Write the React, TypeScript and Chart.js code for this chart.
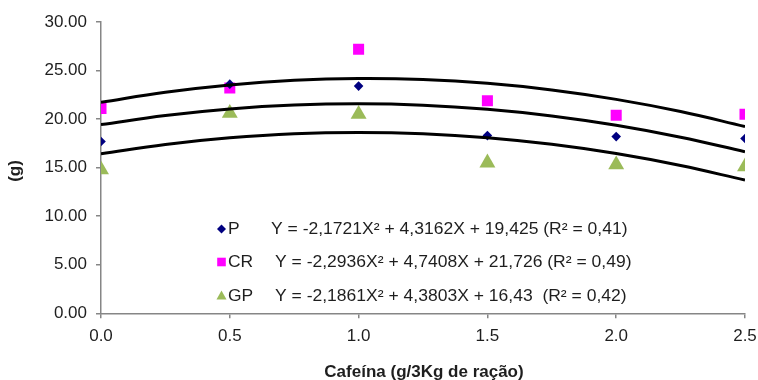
import React, { useEffect, useRef } from "react";
import { Chart, registerables } from "chart.js";

Chart.register(...registerables);

const doseX = [0, 0.5, 1.0, 1.5, 2.0, 2.5];
const pValues = [17.7, 23.6, 23.4, 18.3, 18.2, 18.0];
const crValues = [21.1, 23.2, 27.2, 21.9, 20.4, 20.5];
const gpValues = [14.8, 20.6, 20.5, 15.5, 15.3, 15.1];

const trendX = [0, 0.25, 0.5, 0.75, 1.0, 1.25, 1.5, 1.75, 2.0, 2.25, 2.5];
const crTrend = [21.73, 22.77, 23.52, 23.99, 24.17, 24.07, 23.68, 23.0, 22.03, 20.78, 19.24];
const pTrend = [19.43, 20.37, 21.04, 21.44, 21.57, 21.43, 21.01, 20.33, 19.37, 18.14, 16.64];
const gpTrend = [16.43, 17.39, 18.07, 18.49, 18.62, 18.49, 18.08, 17.4, 16.45, 15.22, 13.72];

const seriesNames = ["P", "CR", "GP"];
const equations = [
  "Y = -2,1721X\u00B2 + 4,3162X + 19,425 (R\u00B2 = 0,41)",
  "Y = -2,2936X\u00B2 + 4,7408X + 21,726 (R\u00B2 = 0,49)",
  "Y = -2,1861X\u00B2 + 4,3803X + 16,43  (R\u00B2 = 0,42)",
];
const xTitle = "Cafeína (g/3Kg de ração)";
const yTitle = "(g)";

const FONT = "'Liberation Sans', Arial, sans-serif";
const TEXT = "#1e1e1e";
const AXIS = "#868686";
const colors = ["#000080", "#FF00FF", "#9BBB59"];
const shapes = ["rectRot", "rect", "triangle"];
const radii = [4.8, 7.8, 9.2];

const toPts = (xs: number[], ys: number[]) => xs.map((x, i) => ({ x, y: ys[i] }));

const stretched = (ctx: any, text: string, x: number, y: number, sx: number) => {
  ctx.save();
  ctx.translate(x, y);
  ctx.scale(sx, 1);
  ctx.fillText(text, 0, 0);
  ctx.restore();
};

const annotate = {
  id: "annotate",
  afterDraw(chart: any) {
    const ctx = chart.ctx;
    ctx.save();
    ctx.fillStyle = TEXT;
    const rows = [229, 262, 296];
    const eqX = [271, 275, 275];
    ctx.font = `16px ${FONT}`;
    ctx.textBaseline = "middle";
    ctx.textAlign = "left";
    rows.forEach((y, i) => {
      ctx.fillStyle = colors[i];
      ctx.beginPath();
      const cx = 221.5;
      if (i === 0) {
        ctx.moveTo(cx, y - 4.5);
        ctx.lineTo(cx + 4.5, y);
        ctx.lineTo(cx, y + 4.5);
        ctx.lineTo(cx - 4.5, y);
      } else if (i === 1) {
        ctx.rect(cx - 4.3, y - 4.3, 8.6, 8.6);
      } else {
        ctx.moveTo(cx, y - 5.5);
        ctx.lineTo(cx + 5, y + 3.5);
        ctx.lineTo(cx - 5, y + 3.5);
      }
      ctx.closePath();
      ctx.fill();
      ctx.fillStyle = TEXT;
      stretched(ctx, seriesNames[i], 228, y + 1, 1.09);
      stretched(ctx, equations[i], eqX[i], y + 1, 1.095);
    });
    ctx.font = `bold 17px ${FONT}`;
    ctx.textAlign = "center";
    ctx.fillText(xTitle, 424, 372);
    ctx.translate(15, 171);
    ctx.rotate(-Math.PI / 2);
    ctx.fillText(yTitle, 0, 0);
    ctx.restore();
  },
};

export default function App() {
  const ref = useRef<HTMLCanvasElement | null>(null);
  useEffect(() => {
    document.body.style.margin = "0";
    const canvas = ref.current;
    if (!canvas) return;
    const pointSets = [pValues, crValues, gpValues].map((vals, i) => ({
      type: "scatter" as const,
      label: seriesNames[i],
      data: toPts(doseX, vals),
      showLine: false,
      pointStyle: shapes[i],
      pointRadius: radii[i],
      pointBackgroundColor: colors[i],
      pointBorderWidth: 0,
      pointBorderColor: colors[i],
      order: 2,
    }));
    const trendSets = [crTrend, pTrend, gpTrend].map((vals, i) => ({
      type: "scatter" as const,
      label: "trend" + i,
      data: toPts(trendX, vals),
      showLine: true,
      borderColor: "#000000",
      borderWidth: 3,
      pointRadius: 0,
      tension: 0.4,
      fill: false,
      order: 1,
    }));
    const chart = new Chart(canvas, {
      type: "scatter",
      data: { datasets: [...trendSets, ...pointSets] as any },
      options: {
        responsive: false,
        animation: false,
        layout: { padding: { top: 22, right: 13, left: 0, bottom: 0 } },
        plugins: { legend: { display: false }, tooltip: { enabled: false } },
        scales: {
          x: {
            type: "linear",
            min: 0,
            max: 2.5,
            afterFit: (s: any) => {
              s.height = 66.7;
              s.paddingLeft = 0;
              s.paddingRight = 0;
            },
            border: { color: AXIS, width: 1.5 },
            grid: { drawOnChartArea: false, color: AXIS, tickLength: 5, lineWidth: 1.5 },
            ticks: {
              stepSize: 0.5,
              padding: 8,
              color: TEXT,
              font: { family: FONT, size: 17 },
              callback: (v: any) => Number(v).toFixed(1),
            },
          },
          y: {
            min: 0,
            max: 30,
            afterFit: (s: any) => {
              s.width = 101;
              s.paddingTop = 0;
              s.paddingBottom = 0;
            },
            border: { color: AXIS, width: 1.5 },
            grid: { drawOnChartArea: false, color: AXIS, tickLength: 5, lineWidth: 1.5 },
            ticks: {
              stepSize: 5,
              padding: 9,
              color: TEXT,
              font: { family: FONT, size: 17 },
              callback: (v: any) => Number(v).toFixed(2),
            },
          },
        },
      },
      plugins: [annotate],
    });
    return () => chart.destroy();
  }, []);
  return (
    <div style={{ width: 758, height: 380 }}>
      <canvas ref={ref} width={758} height={380} style={{ display: "block" }} />
    </div>
  );
}
